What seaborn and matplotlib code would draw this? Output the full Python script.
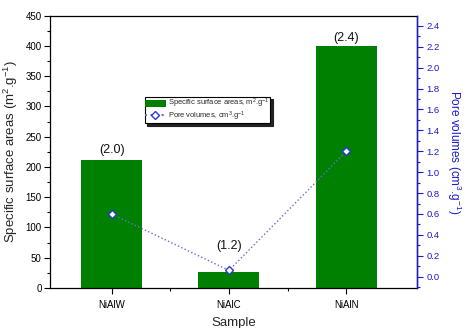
import matplotlib
matplotlib.use("Agg")
import matplotlib.pyplot as plt
import seaborn as sns
import numpy as np
import pandas as pd
from matplotlib.ticker import MultipleLocator, FixedLocator, FormatStrFormatter
from matplotlib.lines import Line2D
from matplotlib.patches import Patch

samples = ["NiAlW", "NiAlC", "NiAlN"]
surface_area = [212, 26, 400]
pore_volume = [0.60, 0.06, 1.20]
bar_labels = ["(2.0)", "(1.2)", "(2.4)"]

sns.set_theme(style="white")
plt.rcParams['font.family'] = ['Liberation Sans', 'DejaVu Sans']
plt.rcParams['mathtext.fontset'] = 'custom'
plt.rcParams['mathtext.rm'] = 'Liberation Sans'
plt.rcParams['mathtext.it'] = 'Liberation Sans'
plt.rcParams['mathtext.default'] = 'regular'

fig = plt.figure(figsize=(4.68, 3.28), dpi=100)
ax = fig.add_axes([0.1068, 0.122, 0.7836, 0.830])

df = pd.DataFrame({"Sample": samples, "Area": surface_area})
sns.barplot(data=df, x="Sample", y="Area", color="#008000", saturation=1,
            width=0.52, ax=ax, edgecolor="none")
ax.set_xlim(-0.525, 2.6)
ax.set_ylim(0, 450)
ax.yaxis.set_major_locator(MultipleLocator(50))
ax.yaxis.set_minor_locator(MultipleLocator(25))
ax.xaxis.set_minor_locator(FixedLocator([0.5, 1.5]))
ax.tick_params(axis="both", which="both", direction="out", colors="black",
               labelsize=7, left=True, bottom=True, top=False, right=False)
ax.tick_params(axis="both", which="major", length=4, width=0.8)
ax.tick_params(axis="both", which="minor", length=2.5, width=0.8)
ax.tick_params(axis="y", which="major", pad=2)
ax.tick_params(axis="x", labelsize=7, pad=5)
ax.set_xlabel("Sample", fontsize=9.5, labelpad=5)
ax.set_ylabel("Specific surface areas (m$^{2}$.g$^{-1}$)", fontsize=9.5, labelpad=4)
for s in ax.spines.values():
    s.set_color("black")
    s.set_linewidth(0.9)

offsets = [7, 19, 6]
for i, (v, lab) in enumerate(zip(surface_area, bar_labels)):
    ax.annotate(lab, (i, v), xytext=(0, offsets[i]), textcoords="offset points",
                ha="center", va="center", fontsize=9, color="#111111")

ax2 = ax.twinx()
blue = "#1a1acc"
ax2.plot(np.arange(len(samples)), pore_volume, linestyle=":", color="#6a6ae0",
         linewidth=1.0, marker="D", markersize=4.5, markerfacecolor="white",
         markeredgecolor="#2a3ad0", markeredgewidth=1.0)
ax2.set_ylim(-0.108, 2.496)
ax2.yaxis.set_major_locator(MultipleLocator(0.2))
ax2.yaxis.set_minor_locator(MultipleLocator(0.1))
ax2.yaxis.set_major_formatter(FormatStrFormatter("%.1f"))
ax2.tick_params(axis="y", which="both", direction="out", colors=blue, labelsize=6.8,
                right=True, left=False)
ax2.tick_params(axis="y", which="major", length=4, width=0.8, pad=3)
ax2.tick_params(axis="y", which="minor", length=2.5, width=0.8)
ax2.spines["right"].set_color(blue)
ax2.spines["right"].set_linewidth(1.0)
for k in ["left", "top", "bottom"]:
    ax2.spines[k].set_visible(False)
ax2.set_ylabel("Pore volumes (cm$^{3}$.g$^{-1}$)", fontsize=8.5, color=blue,
               rotation=270, labelpad=17)

handles = [Patch(facecolor="#008000", edgecolor="none"),
           Line2D([], [], linestyle=":", color="#6a6ae0", marker="D", markersize=4,
                  markerfacecolor="white", markeredgecolor="#2a3ad0")]
leg = ax2.legend(handles, ["Specific surface areas, m$^{2}$.g$^{-1}$",
                           "Pore volumes, cm$^{3}$.g$^{-1}$"],
                 loc="upper left", bbox_to_anchor=(0.258, 0.703), fontsize=5.4,
                 frameon=True, fancybox=False, shadow={"color": "#222222", "alpha": 1},
                 edgecolor="black",
                 framealpha=1, borderpad=0.05, labelspacing=-0.1, handlelength=2.8,
                 handleheight=1.0, handletextpad=0.3, borderaxespad=0)
leg.get_frame().set_linewidth(0.8)

fig.savefig("out.png", dpi=100)
